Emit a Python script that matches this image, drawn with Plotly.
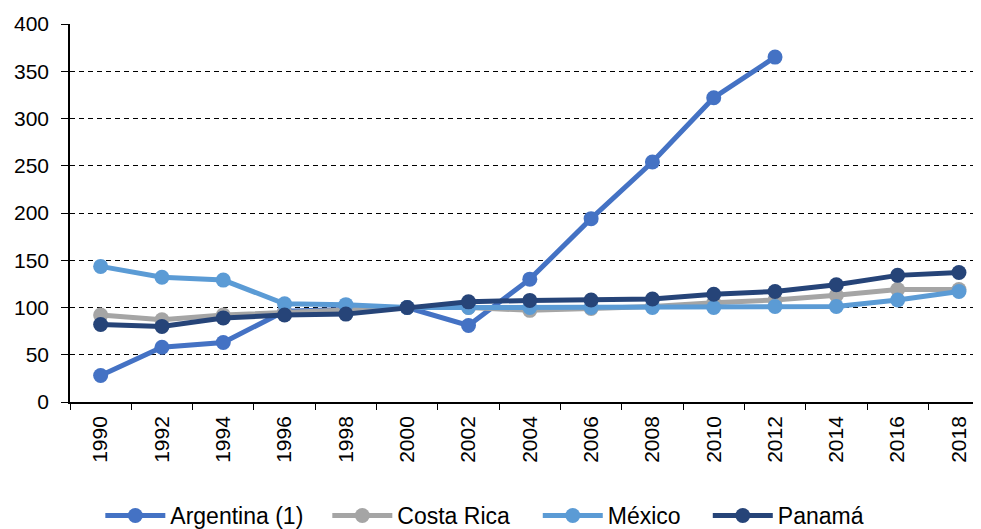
import plotly.graph_objects as go

years = ["1990","1992","1994","1996","1998","2000","2002","2004","2006","2008","2010","2012","2014","2016","2018"]
argentina = [28, 58, 63, 96, 98, 100, 81, 130, 194, 254, 322, 365, None, None, None]
costa_rica = [92, 87, 92, 95, 97, 100, 100, 97, 99, 101, 105, 108, 113, 119, 119]
mexico = [143.5, 132, 129, 104, 103, 100, 100, 100, 100, 100, 100, 101, 101, 108, 117]
panama = [82, 80, 89, 92, 93, 100, 106, 107.5, 108, 109, 114, 117, 124, 134, 137]

series = [
    ("Argentina (1)", argentina, "#4472C4"),
    ("Costa Rica", costa_rica, "#A5A5A5"),
    ("México", mexico, "#5B9BD5"),
    ("Panamá", panama, "#264478"),
]
legend_ids = ["legend", "legend2", "legend3", "legend4"]
legend_x = [0.033, 0.280, 0.509, 0.694]

fig = go.Figure()
for (name, vals, col), lid in zip(series, legend_ids):
    fig.add_trace(go.Scatter(
        x=years, y=vals, name=name, mode="lines+markers",
        line=dict(color=col, width=5),
        marker=dict(color=col, size=15),
        connectgaps=False, legend=lid,
    ))

leg_common = dict(orientation="h", xanchor="left", y=-0.30, yanchor="middle",
                  font=dict(size=23), itemwidth=60, bgcolor="rgba(0,0,0,0)")
legends = {lid: dict(x=lx, **leg_common) for lid, lx in zip(legend_ids, legend_x)}

fig.update_layout(
    width=981, height=529,
    margin=dict(l=62, r=0, t=16, b=134),
    plot_bgcolor="white", paper_bgcolor="white",
    font=dict(family="Liberation Sans, Arial, sans-serif", size=21, color="black"),
    showlegend=True,
    **legends,
)
fig.update_xaxes(
    type="category", range=[-0.5, 14.49], automargin=False,
    showline=True, linecolor="black", linewidth=1.5,
    ticks="outside", tickson="boundaries", ticklen=6, tickcolor="black",
    tickangle=-90, showgrid=False, tickfont=dict(size=21), ticklabelstandoff=4,
)
fig.update_yaxes(
    range=[0, 400], dtick=50, automargin=False,
    showline=True, linecolor="black", linewidth=1.5,
    ticks="outside", ticklen=7, tickcolor="black",
    showgrid=True, gridcolor="black", griddash="5px,4px", gridwidth=1.3,
    zeroline=False, tickfont=dict(size=21), ticklabelstandoff=8,
)

fig.write_html("out.html")
